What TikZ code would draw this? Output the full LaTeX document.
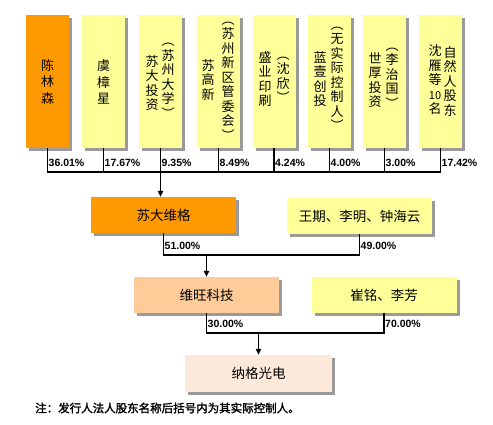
\documentclass[tikz,border=0pt]{standalone}
\usepackage{fontspec}
\setmainfont{Noto Sans CJK SC}
\newfontfamily\numfont{Liberation Sans}
\newfontfamily\notefont[FakeBold=2]{Noto Sans CJK SC}
\usetikzlibrary{arrows.meta,shadows}
\definecolor{orgc}{HTML}{FF9900}
\definecolor{ylwc}{HTML}{FFFF99}
\definecolor{pchc}{HTML}{FFCC99}
\definecolor{ltc}{HTML}{FDE9D9}
\definecolor{shc}{HTML}{9A9A9A}
\begin{document}
\begin{tikzpicture}[x=1pt,y=-1pt,
  sbox/.style={draw=none,inner sep=0pt,drop shadow={shadow xshift=3pt,shadow yshift=-3pt,fill=shc,opacity=1}},
  tbox/.style={sbox,minimum width=43pt,minimum height=133pt},
  wbox/.style={sbox,minimum width=145pt,minimum height=36pt,font=\fontsize{13.5}{15}\selectfont},
  vcol/.style={align=center,inner sep=0pt,font=\fontsize{13}{14.5}\selectfont},
  vcolw/.style={align=center,inner sep=0pt,font=\fontsize{13}{16.5}\selectfont},
  pct/.style={anchor=south west,inner sep=1pt,font=\numfont\bfseries\fontsize{10.5}{12}\selectfont},
  conn/.style={line width=1.3pt},
  arr/.style={line width=1.3pt,-{Triangle[length=6pt,width=5.5pt]}}]
\useasboundingbox (0,0) rectangle (493,425);
\fill[white] (0,0) rectangle (493,425);
% top boxes
\node[tbox,fill=orgc] (b1) at (47.5,81.5) {};
\node[tbox,fill=ylwc] (b2) at (103.5,81.5) {};
\node[tbox,fill=ylwc] (b3) at (160.5,81.5) {};
\node[tbox,fill=ylwc] (b4) at (218.5,81.5) {};
\node[tbox,fill=ylwc] (b5) at (274,81.5) {};
\node[tbox,fill=ylwc] (b6) at (329.5,81.5) {};
\node[tbox,fill=ylwc] (b7) at (384.5,81.5) {};
\node[tbox,fill=ylwc] (b8) at (440.5,81.5) {};
% vertical texts
\node[vcolw] (t1) at (47.5,82) {陈\\林\\森};
\node[vcolw] (t2) at (103.5,82) {虞\\樟\\星};
\node[vcol] (t3a) at (152,83) {苏\\大\\投\\资};
\node[vcol] (t3b) at (168,81) {︵\\苏\\州\\大\\学\\︶};
\node[vcol] (t4a) at (208,80) {苏\\高\\新};
\node[vcol] (t4b) at (228,81) {︵\\苏\\州\\新\\区\\管\\委\\会\\︶};
\node[vcol] (t5a) at (265,79) {盛\\业\\印\\刷};
\node[vcol] (t5b) at (283,80) {︵\\沈\\欣\\︶};
\node[vcol] (t6a) at (320,79) {蓝\\壹\\创\\投};
\node[vcol] (t6b) at (337,79) {︵\\无\\实\\际\\控\\制\\人\\︶};
\node[vcol] (t7a) at (375,80) {世\\厚\\投\\资};
\node[vcol] (t7b) at (392,78) {︵\\李\\治\\国\\︶};
\node[vcol] (t8a) at (435,80) {沈\\雁\\等\\{\fontsize{11}{14.5}\selectfont 10}\\名};
\node[vcol] (t8b) at (450,81) {自\\然\\人\\股\\东};
% second level boxes
\node[wbox,fill=orgc] (sd) at (163.5,215) {苏大维格};
\node[wbox,fill=ylwc] (wq) at (359.5,216) {王期、李明、钟海云};
\node[wbox,fill=pchc] (ww) at (206.5,295) {维旺科技};
\node[wbox,fill=ylwc] (cm) at (384,295) {崔铭、李芳};
\node[wbox,fill=ltc,minimum width=147pt,minimum height=37pt] (ng) at (258.5,373.5) {纳格光电};
% bus coordinates
\coordinate (bus1) at (0,172);
\coordinate (bus2) at (0,255);
\coordinate (bus3) at (0,333);
% level 1 connectors
\draw[conn] (b1.south) -- (b1.south |- bus1) -- (b8.south |- bus1) -- (b8.south);
\foreach \b in {b2,b3,b4,b5,b6,b7}{\draw[conn] (\b.south) -- (\b.south |- bus1);}
\draw[arr] (b3.south |- bus1) -- (b3.south |- sd.north);
\node[pct] (p1) at ([yshift=4pt]b1.south |- bus1) {36.01\%};
\node[pct] (p2) at ([yshift=4pt]b2.south |- bus1) {17.67\%};
\node[pct] (p3) at ([yshift=4pt]b3.south |- bus1) {9.35\%};
\node[pct] (p4) at ([yshift=4pt]b4.south |- bus1) {8.49\%};
\node[pct] (p5) at ([yshift=4pt]b5.south |- bus1) {4.24\%};
\node[pct] (p6) at ([yshift=4pt]b6.south |- bus1) {4.00\%};
\node[pct] (p7) at ([yshift=4pt]b7.south |- bus1) {3.00\%};
\node[pct] (p8) at ([yshift=4pt]b8.south |- bus1) {17.42\%};
% level 2 connectors
\draw[conn] (sd.south) -- (sd.south |- bus2) -- (wq.south |- bus2) -- (wq.south);
\draw[arr] (ww.north |- bus2) -- (ww.north);
\node[pct] (p9) at ([yshift=4pt]sd.south |- bus2) {51.00\%};
\node[pct] (p10) at ([yshift=4pt]wq.south |- bus2) {49.00\%};
% level 3 connectors
\draw[conn] (ww.south) -- (ww.south |- bus3) -- (cm.south |- bus3) -- (cm.south);
\draw[arr] (ng.north |- bus3) -- (ng.north);
\node[pct] (p11) at ([yshift=4pt]ww.south |- bus3) {30.00\%};
\node[pct] (p12) at ([yshift=4pt]cm.south |- bus3) {70.00\%};
% note
\node[anchor=west,inner sep=0pt,font=\notefont\fontsize{11.5}{13}\selectfont] (note) at (35,408) {注：发行人法人股东名称后括号内为其实际控制人。};
\end{tikzpicture}
\end{document}
